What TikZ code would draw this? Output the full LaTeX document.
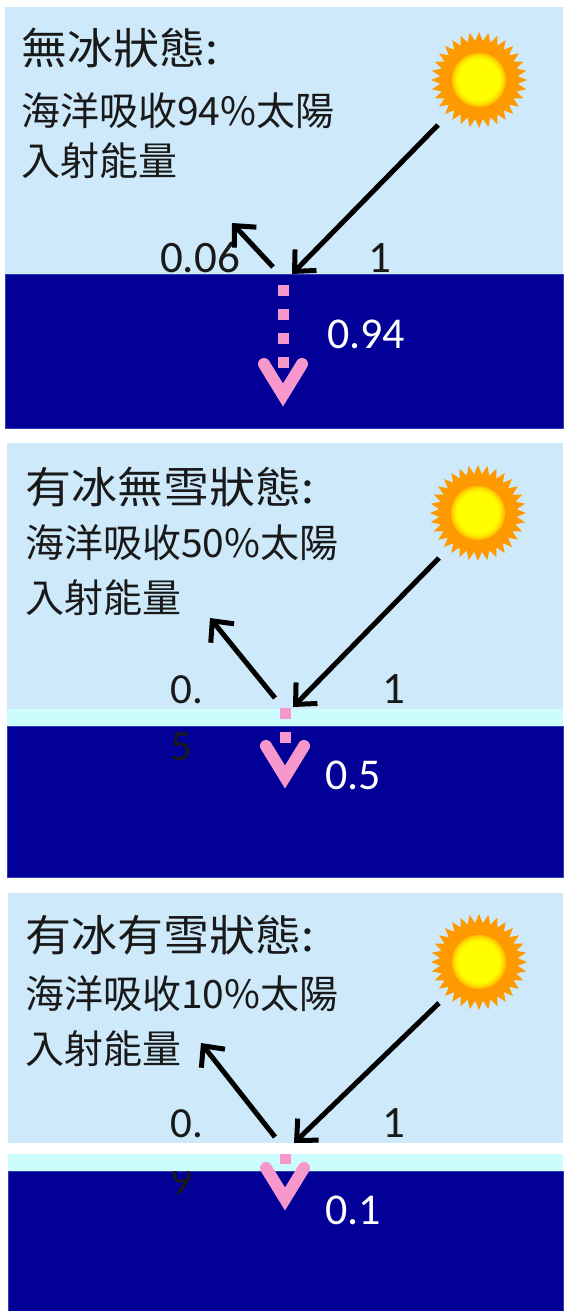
\documentclass[tikz,border=0pt]{standalone}
\usepackage{fontspec}
\usetikzlibrary{arrows.meta}

\newfontfamily\cjkbody{Noto Sans CJK TC}
\newfontfamily\cjkhead[FakeStretch=1.07]{Noto Sans CJK TC}
\newfontfamily\numfont{Carlito}

\definecolor{skyblue}{RGB}{205,233,250}
\definecolor{seablue}{RGB}{2,0,150}
\definecolor{searim}{RGB}{50,60,185}
\definecolor{icecyan}{RGB}{204,252,252}
\definecolor{inkgray}{RGB}{25,25,25}
\definecolor{pinkray}{RGB}{247,152,205}
\definecolor{sunorange}{RGB}{255,153,0}
\definecolor{sunyellow}{RGB}{255,255,0}

\begin{document}
\begin{tikzpicture}[x=1pt,y=-1pt,
  sky/.style={fill=skyblue},
  sea/.style={fill=seablue, draw=searim, line width=1},
  ice/.style={fill=icecyan},
  headtext/.style={font=\cjkhead\fontsize{43}{50}\selectfont, text=inkgray,
    inner sep=0, anchor=base west},
  bodytext/.style={font=\cjkbody\fontsize{39}{46}\selectfont, text=inkgray,
    inner sep=0, anchor=base west},
  numdark/.style={font=\numfont\fontsize{45}{57}\selectfont, text=inkgray,
    inner sep=0, anchor=base},
  numsmall/.style={font=\numfont\fontsize{43}{57}\selectfont, text=inkgray,
    inner sep=0, anchor=base west, align=left},
  numlight/.style={font=\numfont\fontsize{44}{57}\selectfont, text=white,
    inner sep=0, anchor=base},
  ray/.style={draw=black, line width=5,
    -{Straight Barb[length=16pt,width=30pt]}},
  pinkdots/.style={draw=pinkray, line width=11, dash pattern=on 11pt off 13pt},
  pinkv/.style={draw=pinkray, line width=12, line join=miter, line cap=round},
  % spiky orange corona with a yellow core that fades into it
  sun/.pic={
    \fill[sunorange] (0:48)
      \foreach \i in {1,...,63}{ -- ({\i*5.625}:{43.5+4.5*cos(\i*180)}) } -- cycle;
    \fill[sunyellow!45!sunorange] (0,0) circle (27);
    \fill[sunyellow!70!sunorange] (0,0) circle (25);
    \fill[sunyellow!88!sunorange] (0,0) circle (23);
    \fill[sunyellow] (0,0) circle (21);
  }]

\useasboundingbox (0,0) rectangle (563,1311);
\fill[white] (0,0) rectangle (563,1311);

% ---------- no ice ----------
\fill[sky] (5,7) rectangle (563,274);
\path[sea] (5,274) rectangle (563,428);
\pic at (479,80) {sun};
\node[headtext] (headA) at (21,65) {無冰狀態:};
\node[bodytext] (lineA1) at (21,125) {海洋吸收94\%太陽};
\node[bodytext] (lineA2) at (21,175) {入射能量};
\node[numdark] (refA) at (200,272) {0.06};
\node[numdark] (oneA) at (380,272) {1};
\node[numlight] (absA) at (366,348) {0.94};
\coordinate (inA) at (438,125);
\coordinate (hitA) at (292,274);
\coordinate (outA) at (273,267);
\coordinate (upA) at (232,223);
\draw[ray] (inA) -- (hitA);
\draw[ray] (outA) -- (upA);
\coordinate (dA) at (283,285);
\coordinate (dAend) at (283,368);
\coordinate (vA) at (283,395);
\draw[pinkdots] (dA) -- (dAend);
\draw[pinkv] (vA) ++(-19,-31) -- ++(19,31) -- ++(19,-31);

% ---------- ice without snow ----------
\fill[sky] (7,443) rectangle (563,709);
\fill[ice] (7,709) rectangle (563,726);
\path[sea] (7,726) rectangle (563,877);
\pic at (478,513) {sun};
\node[headtext] (headB) at (25,503) {有冰無雪狀態:};
\node[bodytext] (lineB1) at (25,557) {海洋吸收50\%太陽};
\node[bodytext] (lineB2) at (25,612) {入射能量};
\node[numsmall] (refB) at (170,760) {0.\\5};
\node[numdark] (oneB) at (394,703) {1};
\node[numlight] (absB) at (353,789) {0.5};
\coordinate (inB) at (439,558);
\coordinate (hitB) at (293,707);
\coordinate (outB) at (275,698);
\coordinate (upB) at (210,618);
\draw[ray] (inB) -- (hitB);
\draw[ray] (outB) -- (upB);
\coordinate (dB) at (285,708);
\coordinate (dBend) at (285,744);
\coordinate (vB) at (285,777);
\draw[pinkdots] (dB) -- (dBend);
\draw[pinkv] (vB) ++(-19,-31) -- ++(19,31) -- ++(19,-31);

% ---------- ice with snow ----------
\fill[sky] (8,893) rectangle (563,1143);
\path[sea] (8,1171) rectangle (563,1312);
\pic at (479,962) {sun};
\node[headtext] (headC) at (25,951) {有冰有雪狀態:};
\node[bodytext] (lineC1) at (25,1008) {海洋吸收10\%太陽};
\node[bodytext] (lineC2) at (25,1063) {入射能量};
\node[numsmall] (refC) at (170,1194) {0.\\9};
\fill[ice] (8,1154) rectangle (563,1171);
\node[numdark] (oneC) at (394,1137) {1};
\node[numlight] (absC) at (353,1224) {0.1};
\coordinate (inC) at (439,1003);
\coordinate (hitC) at (294,1143);
\coordinate (outC) at (275,1137);
\coordinate (upC) at (201,1043);
\draw[ray] (inC) -- (hitC);
\draw[ray] (outC) -- (upC);
\coordinate (dC) at (285,1154);
\coordinate (dCend) at (285,1164);
\coordinate (vC) at (285,1199);
\draw[pinkdots] (dC) -- (dCend);
\draw[pinkv] (vC) ++(-19,-31) -- ++(19,31) -- ++(19,-31);

\end{tikzpicture}
\end{document}
